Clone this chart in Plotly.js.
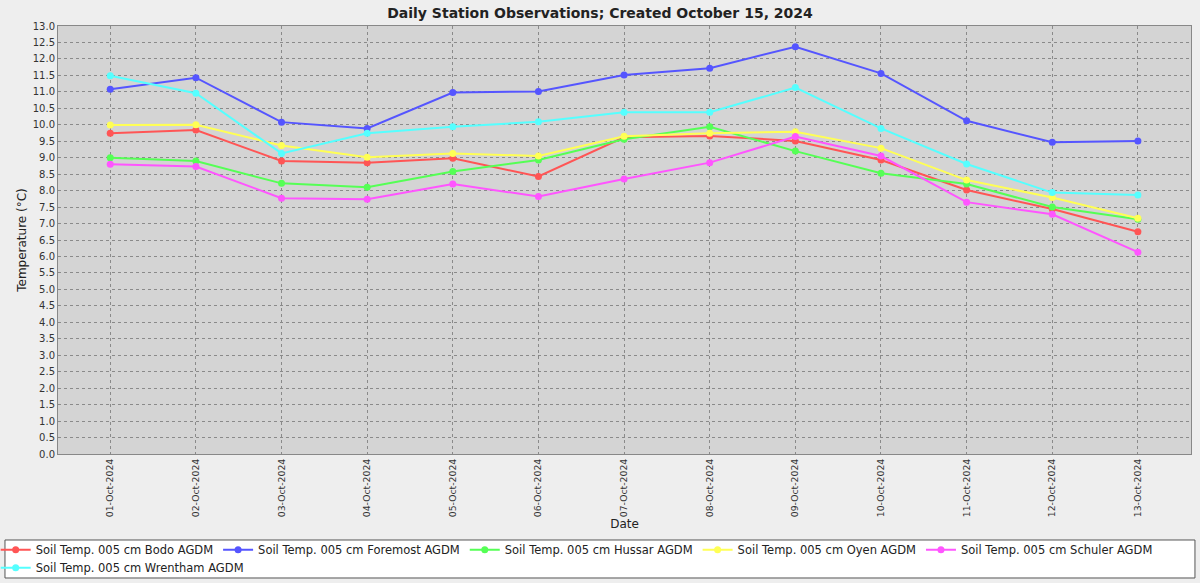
<!DOCTYPE html>
<html><head><meta charset="utf-8">
<script src="https://cdn.plot.ly/plotly-3.0.1.min.js"></script>
<style>html,body{margin:0;padding:0;background:#eeeeee;}#chart{width:1200px;height:583px;}</style>
</head><body><div id="chart"></div>
<script>
const dates = ["01-Oct-2024","02-Oct-2024","03-Oct-2024","04-Oct-2024","05-Oct-2024","06-Oct-2024","07-Oct-2024","08-Oct-2024","09-Oct-2024","10-Oct-2024","11-Oct-2024","12-Oct-2024","13-Oct-2024"];
const bodo =      [9.74, 9.84, 8.90, 8.85, 8.98, 8.43, 9.62, 9.66, 9.51, 8.93, 8.02, 7.44, 6.75];
const foremost =  [11.08, 11.43, 10.08, 9.89, 10.98, 11.01, 11.51, 11.72, 12.37, 11.56, 10.12, 9.47, 9.51];
const hussar =    [9.00, 8.90, 8.22, 8.10, 8.58, 8.93, 9.56, 9.94, 9.20, 8.53, 8.20, 7.50, 7.13];
const oyen =      [9.99, 10.00, 9.37, 9.01, 9.13, 9.05, 9.65, 9.74, 9.79, 9.29, 8.32, 7.79, 7.16];
const schuler =   [8.80, 8.73, 7.77, 7.74, 8.20, 7.82, 8.35, 8.85, 9.64, 9.05, 7.65, 7.28, 6.13];
const wrentham =  [11.49, 10.96, 9.13, 9.74, 9.94, 10.09, 10.38, 10.38, 11.13, 9.89, 8.81, 7.94, 7.87];
const names = ["Soil Temp. 005 cm Bodo AGDM","Soil Temp. 005 cm Foremost AGDM","Soil Temp. 005 cm Hussar AGDM","Soil Temp. 005 cm Oyen AGDM","Soil Temp. 005 cm Schuler AGDM","Soil Temp. 005 cm Wrentham AGDM"];
const colors = ["#ff5555","#5555ff","#55ff55","#ffff55","#ff55ff","#55ffff"];
const series = [bodo, foremost, hussar, oyen, schuler, wrentham];
const yTicks = [];
for (let i = 0; i <= 26; i++) yTicks.push(i * 0.5);

const traces = series.map((s, i) => ({
  x: dates, y: s, name: names[i], type: 'scatter', mode: 'lines+markers',
  line: {color: colors[i], width: 2},
  marker: {color: colors[i], size: 7},
  legend: i < 5 ? 'legend' : 'legend2'
}));

const legendCommon = {
  orientation: 'h', xref: 'paper', yref: 'paper',
  x: -0.055, xanchor: 'left', yanchor: 'top',
  bgcolor: 'rgba(0,0,0,0)', borderwidth: 0,
  font: {size: 11.5, color: '#222'}, itemwidth: 30, tracegroupgap: 0
};

const layout = {
  width: 1200, height: 583,
  paper_bgcolor: '#eeeeee', plot_bgcolor: '#d4d4d4',
  margin: {l: 58, r: 9, t: 26, b: 129, autoexpand: false},
  font: {family: 'DejaVu Sans', size: 12, color: '#333'},
  title: {text: 'Daily Station Observations; Created October 15, 2024', font: {family: 'DejaVu Sans', size: 14, weight: 'bold', color: '#222'}, x: 0.5, xanchor: 'center', y: 0.977, yanchor: 'middle'},
  xaxis: {
    type: 'category', range: [-0.61, 12.62], tickangle: -90,
    tickfont: {size: 9.3, color: '#333'},
    showgrid: true, gridcolor: '#8a8a8a', griddash: 'dot', gridwidth: 1,
    ticks: '',
    showline: true, linecolor: '#888', mirror: true,
    title: {text: 'Date', font: {size: 12, color: '#222'}, standoff: 3},
    fixedrange: true
  },
  yaxis: {
    range: [0, 13], tickvals: yTicks, tickformat: '.1f',
    tickfont: {size: 10, color: '#333'},
    showgrid: true, gridcolor: '#8a8a8a', griddash: 'dot', gridwidth: 1,
    zeroline: false, ticks: '',
    showline: true, linecolor: '#888', mirror: true,
    title: {text: 'Temperature (°C)', font: {size: 12, color: '#222'}, standoff: 3},
    fixedrange: true
  },
  showlegend: true,
  legend: Object.assign({}, legendCommon, {y: -0.19}),
  legend2: Object.assign({}, legendCommon, {y: -0.232}),
  shapes: [{
    type: 'rect', xref: 'paper', yref: 'paper', layer: 'below',
    x0: -0.0468, x1: 1.0035, y0: -0.2897, y1: -0.2009,
    fillcolor: '#ffffff', line: {color: '#555', width: 1}
  }]
};
Plotly.newPlot('chart', traces, layout, {displayModeBar: false, staticPlot: true});
</script></body></html>
